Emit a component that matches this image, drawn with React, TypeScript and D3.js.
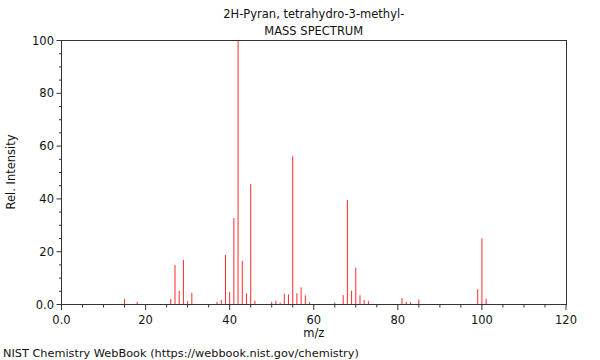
import React from "react";
import * as d3 from "d3";

const mzValues = [15, 18, 26, 27, 28, 29, 30, 31, 37, 38, 39, 40, 41, 42, 43, 44, 45, 46, 50, 51, 52, 53, 54, 55, 56, 57, 58, 59, 65, 67, 68, 69, 70, 71, 72, 73, 81, 82, 83, 85, 99, 100, 101];
const intensities = [1.9, 0.8, 1.9, 14.8, 5.0, 16.7, 1.1, 4.2, 0.8, 1.5, 18.6, 4.5, 32.6, 100, 16.3, 4.0, 45.5, 1.2, 0.8, 1.2, 0.5, 3.8, 3.6, 56, 4.1, 6.3, 3.3, 0.7, 0.5, 3.4, 39.4, 5.1, 13.8, 3.3, 1.5, 1.1, 2.2, 0.8, 0.7, 1.7, 5.6, 24.9, 2.0];
const xMajorTicks = [0, 20, 40, 60, 80, 100, 120];
const yMajorTicks = [0, 20, 40, 60, 80, 100];
const titleLines = ["2H-Pyran, tetrahydro-3-methyl-", "MASS SPECTRUM"];
const xLabel = "m/z";
const yLabel = "Rel. Intensity";
const footer = "NIST Chemistry WebBook (https://webbook.nist.gov/chemistry)";

const W = 600, H = 360;
const left = 61.5, right = 566, top = 40, bottom = 304;
const FONT = "'DejaVu Sans', sans-serif";
const FS = 11.5;

export default function App() {
  const x = d3.scaleLinear().domain([0, 120]).range([left, right]);
  const y = d3.scaleLinear().domain([0, 100]).range([bottom, top]);
  const xMinor = d3.range(0, 121, 5);
  const yMinor = d3.range(0, 101, 5);
  const fmt = (v: number) => (v === 0 ? "0.0" : String(v));
  const axisColor = "#333";
  const cx = (left + right) / 2;
  return (
    <svg width={W} height={H} style={{ position: "absolute", left: 0, top: 0, background: "#fff" }}
      fontFamily={FONT} fontSize={FS}>
      <rect x={0} y={0} width={W} height={H} fill="#fff" />
      {titleLines.map((t, i) => (
        <text key={i} x={cx} y={17.5 + i * 17} textAnchor="middle" fill="#111">{t}</text>
      ))}
      {/* bars */}
      {mzValues.map((m, i) => (
        <line key={m} x1={x(m)} x2={x(m)} y1={y(0)} y2={y(intensities[i])} stroke="#ff2a2a" strokeWidth={1} />
      ))}
      {/* frame */}
      <rect x={left} y={top + 0.5} width={right - left + 0.5} height={bottom - top} fill="none" stroke={axisColor} strokeWidth={1} />
      {/* x ticks */}
      {xMinor.map((v) => {
        const major = v % 20 === 0;
        return <line key={"xm" + v} x1={x(v)} x2={x(v)} y1={bottom + 0.5} y2={bottom + (major ? 6 : 3.5)} stroke={axisColor} strokeWidth={1} />;
      })}
      {xMajorTicks.map((v) => (
        <text key={"xl" + v} x={x(v)} y={323.5} textAnchor="middle" fill="#111">{fmt(v)}</text>
      ))}
      {/* y ticks */}
      {yMinor.map((v) => {
        const major = v % 20 === 0;
        return <line key={"ym" + v} x1={left - (major ? 5 : 2.5)} x2={left} y1={y(v) + 0.5} y2={y(v) + 0.5} stroke={axisColor} strokeWidth={1} />;
      })}
      {yMajorTicks.map((v) => (
        <text key={"yl" + v} x={54} y={y(v) + 4.5} textAnchor="end" fill="#111">{fmt(v)}</text>
      ))}
      <text x={cx} y={337} textAnchor="middle" fill="#111">{xLabel}</text>
      <text transform={`translate(14.5,${(top + bottom) / 2}) rotate(-90)`} textAnchor="middle" fill="#111">{yLabel}</text>
      <text x={3} y={357} fill="#111" fontSize={11.3}>{footer}</text>
    </svg>
  );
}
